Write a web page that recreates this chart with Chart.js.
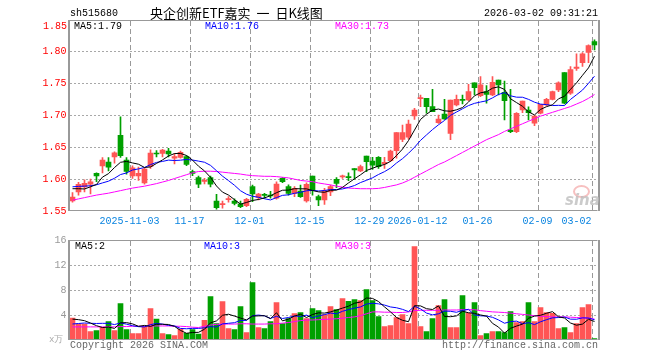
<!DOCTYPE html>
<html><head><meta charset="utf-8">
<script src="https://cdn.jsdelivr.net/npm/chart.js@4.4.1/dist/chart.umd.min.js"></script>
<style>
html,body{margin:0;padding:0;background:#fff;width:660px;height:360px;overflow:hidden;}
#wrap{position:relative;width:660px;height:360px;}
canvas{position:absolute;left:0;}
.t{position:absolute;white-space:nowrap;line-height:1;}
.m{font-family:'Liberation Mono','DejaVu Sans Mono',monospace;font-size:10px;}
.cn{font-family:'Noto Sans CJK SC',sans-serif;font-size:13px;word-spacing:3px;}
</style></head><body>
<div id="wrap">
<canvas id="pc" width="660" height="230" style="top:0"></canvas>
<canvas id="vc" width="660" height="130" style="top:230px"></canvas>
<div class="t m" style="left:70px;top:9px;color:#000">sh515680</div>
<div class="t cn" style="left:150px;top:6px;color:#000">央企创新ETF嘉实 一 日K线图</div>
<div class="t m" style="left:484px;top:9px;color:#000">2026-03-02 09:31:21</div>
<div class="t m" style="left:43px;top:22px;color:#f00">1.85</div>
<div class="t m" style="left:74px;top:22px;color:#000">MA5:1.79</div>
<div class="t m" style="left:205px;top:22px;color:#00f">MA10:1.76</div>
<div class="t m" style="left:335px;top:22px;color:#f0f">MA30:1.73</div>
<div class="t m" style="left:75px;top:242px;color:#000">MA5:2</div>
<div class="t m" style="left:204px;top:242px;color:#00f">MA10:3</div>
<div class="t m" style="left:335px;top:242px;color:#f0f">MA30:3</div>
<div class="t m" style="left:49px;top:336px;color:#aaa;font-size:9px">x万</div>
<div class="t m" style="left:70px;top:341px;color:#666">Copyright 2026 SINA.COM</div>
<div class="t m" style="left:442px;top:341px;color:#666">http://finance.sina.com.cn</div>
<div style="position:absolute;left:573px;top:185px;width:13px;height:9px;border:2px solid rgba(240,140,140,0.55);border-radius:50%"></div>
<div class="t" style="left:565px;top:193px;font-family:'DejaVu Sans',sans-serif;font-style:italic;font-weight:bold;font-size:15px;color:rgba(190,190,190,0.8)">sina</div>
</div>
<script>
const dates = ['2025-10-20','2025-10-21','2025-10-22','2025-10-23','2025-10-24','2025-10-27','2025-10-28','2025-10-29','2025-10-30','2025-10-31',
'2025-11-03','2025-11-04','2025-11-05','2025-11-06','2025-11-07','2025-11-10','2025-11-11','2025-11-12','2025-11-13','2025-11-14',
'2025-11-17','2025-11-18','2025-11-19','2025-11-20','2025-11-21','2025-11-24','2025-11-25','2025-11-26','2025-11-27','2025-11-28',
'2025-12-01','2025-12-02','2025-12-03','2025-12-04','2025-12-05','2025-12-08','2025-12-09','2025-12-10','2025-12-11','2025-12-12',
'2025-12-15','2025-12-16','2025-12-17','2025-12-18','2025-12-19','2025-12-22','2025-12-23','2025-12-24','2025-12-25','2025-12-26',
'2025-12-29','2025-12-30','2025-12-31','2026-01-05','2026-01-06','2026-01-07','2026-01-08','2026-01-09',
'2026-01-12','2026-01-13','2026-01-14','2026-01-15','2026-01-16','2026-01-19','2026-01-20','2026-01-21','2026-01-22','2026-01-23',
'2026-01-26','2026-01-27','2026-01-28','2026-01-29','2026-01-30','2026-02-02','2026-02-03','2026-02-04','2026-02-05','2026-02-06',
'2026-02-09','2026-02-10','2026-02-11','2026-02-12','2026-02-13','2026-02-24','2026-02-25','2026-02-26','2026-02-27','2026-03-02'];

const opens = [1.566,1.580,1.588,1.592,1.609,1.621,1.627,1.635,1.669,1.630,
1.605,1.605,1.594,1.620,1.6405,1.6406,1.6442,1.6328,1.6343,1.6353,
1.6118,1.6023,1.5963,1.6023,1.5657,1.560,1.5678,1.5657,1.561,1.5584,
1.5882,1.5715,1.5755,1.5745,1.570,1.6014,1.5882,1.5778,1.5814,1.5657,
1.605,1.5725,1.5673,1.580,1.5998,1.6035,1.604,1.6167,1.6128,1.6364,
1.6285,1.6343,1.6238,1.629,1.6447,1.6626,1.6658,1.6992,1.7265,1.727,
1.714,1.6887,1.7024,1.672,1.7165,1.7248,1.7243,1.7515,1.7311,1.7374,
1.7322,1.7558,1.7364,1.6772,1.6746,1.7086,1.7086,1.6878,1.7035,1.7165,
1.7254,1.740,1.7673,1.735,1.774,1.783,1.799,1.816];
const closes = [1.572,1.592,1.5935,1.596,1.605,1.630,1.619,1.6415,1.637,1.612,
1.618,1.609,1.616,1.641,1.6395,1.6458,1.6395,1.6353,1.6422,1.6233,
1.6092,1.592,1.598,1.592,1.5552,1.561,1.569,1.562,1.5567,1.5684,
1.5767,1.5767,1.5745,1.5735,1.5924,1.596,1.5778,1.5856,1.5725,1.592,
1.583,1.5673,1.5819,1.5882,1.5935,1.6045,1.6023,1.6144,1.6196,1.6275,
1.622,1.6196,1.6265,1.6442,1.673,1.673,1.6867,1.7086,1.7275,1.714,
1.706,1.6945,1.6945,1.7243,1.7254,1.7238,1.7374,1.7437,1.748,1.7333,
1.7521,1.748,1.7233,1.6746,1.7035,1.7228,1.7044,1.6992,1.7176,1.7254,
1.7374,1.7515,1.7192,1.772,1.776,1.797,1.810,1.811];
const highs = [1.579,1.595,1.599,1.600,1.610,1.634,1.634,1.643,1.698,1.634,
1.621,1.619,1.617,1.646,1.645,1.647,1.6485,1.640,1.6443,1.6369,
1.6144,1.605,1.6014,1.605,1.5762,1.5657,1.5725,1.569,1.5657,1.570,
1.5909,1.5778,1.5778,1.581,1.596,1.6023,1.591,1.5882,1.5909,1.5944,
1.605,1.575,1.5856,1.5909,1.6023,1.6066,1.610,1.6167,1.622,1.6364,
1.6343,1.6356,1.6343,1.6458,1.673,1.685,1.693,1.7113,1.732,1.727,
1.741,1.7008,1.7254,1.7243,1.7322,1.7322,1.749,1.7515,1.761,1.7468,
1.761,1.7558,1.7542,1.741,1.7044,1.7228,1.7138,1.700,1.7176,1.727,
1.7385,1.753,1.7673,1.777,1.797,1.799,1.811,1.819];
const lows = [1.564,1.575,1.580,1.577,1.596,1.610,1.613,1.625,1.634,1.608,
1.601,1.598,1.592,1.617,1.635,1.635,1.635,1.624,1.6328,1.6212,
1.6055,1.5866,1.5924,1.588,1.553,1.5543,1.5637,1.5594,1.5552,1.5567,
1.5646,1.5673,1.570,1.570,1.5684,1.5944,1.575,1.5725,1.5715,1.5637,
1.575,1.5584,1.5605,1.574,1.5866,1.601,1.5975,1.600,1.6118,1.6118,
1.6155,1.6167,1.6167,1.6275,1.6328,1.6589,1.663,1.694,1.714,1.7035,
1.706,1.6877,1.694,1.662,1.715,1.718,1.7233,1.7322,1.7296,1.7192,
1.7311,1.7322,1.693,1.673,1.673,1.7044,1.693,1.684,1.7024,1.715,
1.7243,1.7374,1.718,1.733,1.771,1.777,1.783,1.803];
// closes before the first visible day, estimated from where the MA lines start
const priorCloses = [1.585,1.590,1.590,1.590,1.600,1.592,1.5955,1.579,1.5865];
// MA30 of price
const ma30Price = [1.567,1.569,1.571,1.573,1.575,1.5765,1.578,1.580,1.582,1.584,
1.586,1.5875,1.589,1.591,1.593,1.5955,1.598,1.601,1.604,1.607,
1.610,1.612,1.6125,1.6125,1.612,1.611,1.610,1.609,1.608,1.6065,
1.6055,1.605,1.6045,1.6045,1.604,1.603,1.602,1.600,1.598,1.597,
1.596,1.594,1.5925,1.591,1.589,1.5875,1.586,1.5855,1.585,1.585,
1.585,1.5855,1.587,1.589,1.591,1.594,1.598,1.603,1.608,1.613,
1.618,1.623,1.627,1.632,1.637,1.642,1.647,1.652,1.657,1.662,
1.666,1.670,1.675,1.679,1.683,1.687,1.691,1.695,1.699,1.702,
1.705,1.708,1.711,1.714,1.718,1.722,1.727,1.733];
// volume, unit 万
const volumes = [3.52,2.56,2.56,1.33,1.49,2.03,2.93,1.49,5.81,1.65,
1.01,1.01,2.19,5.01,3.36,1.01,0.85,0.69,1.76,1.07,
1.65,0.96,3.15,6.93,2.61,6.13,1.81,1.65,5.33,1.17,
9.17,1.97,1.81,2.93,5.97,2.61,3.41,4.21,4.37,3.41,
5.01,4.69,4.05,5.33,4.85,6.61,6.19,6.45,6.29,8.05,
6.29,3.73,2.13,2.29,3.57,4.05,2.61,14.93,2.13,1.33,
3.41,5.49,6.45,1.97,1.97,7.09,4.32,5.97,0.69,1.01,
1.33,1.33,1.17,4.53,2.77,2.93,5.97,2.93,5.17,4.37,
4.27,1.81,1.97,1.17,2.61,5.17,5.65,0.21];
const priorVolumes = [1.78,1.78,1.78,1.78,1.78,3.0,3.4,3.2,3.6];
const ma30Volume = [2.1,2.1,2.1,2.1,2.1,2.1,2.1,2.1,2.15,2.15,
2.2,2.2,2.2,2.25,2.25,2.25,2.25,2.2,2.2,2.15,
2.05,2.0,2.2,2.4,2.5,2.55,2.55,2.55,2.6,2.6,
2.55,2.55,2.55,2.6,2.6,2.7,2.8,2.95,3.1,3.2,
3.2,3.25,3.3,3.35,3.4,3.5,3.6,3.7,3.9,4.2,
4.5,4.5,4.45,4.45,4.4,4.4,4.5,4.7,4.75,4.75,
4.75,4.75,4.8,4.8,4.8,4.85,4.85,4.85,4.7,4.6,
4.5,4.45,4.4,4.3,4.2,4.1,4.0,3.9,3.8,3.75,
3.7,3.7,3.7,3.65,3.6,3.55,3.5,3.35];
const xTickIdx = [10,20,30,40,50,58,68,78,87];
const xTickLabels = ['2025-11-03','11-17','12-01','12-15','12-29','2026-01-12','01-26','02-09','03-02'];
const priceTicks = ['1.85','1.80','1.75','1.70','1.65','1.60','1.55'];
const volumeTicks = ['16','12','8','4',''];

function movingAvg(vals, prior, n){
  const all = prior.concat(vals);
  return vals.map((_, i) => { const j = i + prior.length; let s = 0; for (let k = j - n + 1; k <= j; k++) s += all[k]; return s / n; });
}
const ma5Price = movingAvg(closes, priorCloses, 5);
const ma10Price = movingAvg(closes, priorCloses, 10);
const ma5Volume = movingAvg(volumes, priorVolumes, 5);
const ma10Volume = movingAvg(volumes, priorVolumes, 10);

const RED = '#ff5555', GREEN = '#00a000';
const barColors = closes.map((c, i) => c >= opens[i] ? RED : GREEN);
const MONO = "'Liberation Mono','DejaVu Sans Mono',monospace";

function drawDateLines(chart) {
  const {ctx, chartArea: a} = chart;
  const x = chart.scales.x;
  const half = (x.getPixelForValue(1) - x.getPixelForValue(0)) / 2;
  ctx.save();
  ctx.strokeStyle = '#999999';
  ctx.lineWidth = 1;
  ctx.setLineDash([5, 3]);
  xTickIdx.forEach(idx => {
    const px = Math.round(x.getPixelForValue(idx) - half) + 0.5;
    ctx.beginPath();
    ctx.moveTo(px, a.top + 1);
    ctx.lineTo(px, a.bottom - 1);
    ctx.stroke();
  });
  ctx.restore();
}

const framePlugin = {
  id: 'frame',
  beforeDatasetsDraw(chart) {
    drawDateLines(chart);
  },
  afterDraw(chart) {
    const {ctx, chartArea: a} = chart;
    ctx.save();
    ctx.setLineDash([]);
    ctx.strokeStyle = '#999';
    ctx.lineWidth = 1;
    ctx.beginPath();
    ctx.moveTo(a.left, Math.round(a.top) + 0.5); ctx.lineTo(a.right, Math.round(a.top) + 0.5);
    ctx.moveTo(a.left, Math.round(a.bottom) - 0.5); ctx.lineTo(a.right, Math.round(a.bottom) - 0.5);
    ctx.stroke();
    ctx.lineWidth = 2;
    ctx.beginPath();
    ctx.moveTo(Math.round(a.left) - 1, a.top); ctx.lineTo(Math.round(a.left) - 1, a.bottom);
    ctx.moveTo(Math.round(a.right) + 1, a.top); ctx.lineTo(Math.round(a.right) + 1, a.bottom);
    ctx.stroke();
    if (chart.options.plugins.frame && chart.options.plugins.frame.xlabels) {
      const x = chart.scales.x;
      const half = (x.getPixelForValue(1) - x.getPixelForValue(0)) / 2;
      ctx.font = '10px ' + MONO;
      ctx.fillStyle = '#0a84e0';
      ctx.textBaseline = 'middle';
      xTickIdx.forEach((idx, k) => {
        const px = x.getPixelForValue(idx) - half;
        ctx.textAlign = (k === xTickIdx.length - 1) ? 'right' : 'center';
        ctx.fillText(xTickLabels[k], px, a.bottom + 10.5);
      });
    }
    ctx.restore();
  }
};

function lineDs(data, color) {
  return {type: 'line', data: data, borderColor: color, borderWidth: 1, pointRadius: 0, tension: 0, order: 0, fill: false};
}
function xScale() {
  return {
    type: 'category', offset: true,
    grid: {display: false, offset: true},
    border: {display: false},
    ticks: {display: false, autoSkip: false},
    afterFit: s => { s.height = 0; }
  };
}

new Chart(document.getElementById('pc'), {
  type: 'bar',
  data: {
    labels: dates,
    datasets: [
      lineDs(ma5Price, '#000000'),
      lineDs(ma10Price, '#0000ff'),
      lineDs(ma30Price, '#ff00ff'),
      {label: 'body', data: opens.map((o, i) => [o, closes[i]]), backgroundColor: barColors,
       barThickness: 5, grouped: false, minBarLength: 1, order: 1},
      {label: 'wick', data: lows.map((l, i) => [l, highs[i]]), backgroundColor: barColors,
       barThickness: 1, grouped: false, order: 2}
    ]
  },
  options: {
    responsive: false, animation: false, devicePixelRatio: 1,
    layout: {padding: {left: 0, right: 62.5, top: 20, bottom: 19}},
    plugins: {legend: {display: false}, tooltip: {enabled: false}, frame: {xlabels: true}},
    scales: {
      x: xScale(),
      y: {
        min: 1.55, max: 1.85,
        afterFit: s => { s.width = 69.5; },
        ticks: {stepSize: 0.05, color: '#ff0000', padding: 3, font: {family: MONO, size: 10},
          callback: v => { const lab = priceTicks.find(t => Math.abs(parseFloat(t) - v) < 1e-6); return (lab && lab !== priceTicks[0]) ? lab : ''; }},
        grid: {drawTicks: false, lineWidth: 1,
          color: c => (c.tick && (c.tick.value > 1.849 || c.tick.value < 1.551)) ? 'rgba(0,0,0,0)' : '#a8a8a8'},
        border: {display: false, dash: [2, 2]}
      }
    }
  },
  plugins: [framePlugin]
});

new Chart(document.getElementById('vc'), {
  type: 'bar',
  data: {
    labels: dates,
    datasets: [
      lineDs(ma5Volume, '#000000'),
      lineDs(ma10Volume, '#0000ff'),
      lineDs(ma30Volume, '#ff00ff'),
      {label: 'vol', data: volumes, backgroundColor: barColors, barThickness: 5, grouped: false, order: 1}
    ]
  },
  options: {
    responsive: false, animation: false, devicePixelRatio: 1,
    layout: {padding: {left: 0, right: 62.5, top: 10, bottom: 20}},
    plugins: {legend: {display: false}, tooltip: {enabled: false}, frame: {xlabels: false}},
    scales: {
      x: xScale(),
      y: {
        min: 0, max: 16,
        afterFit: s => { s.width = 69.5; },
        ticks: {stepSize: 4, color: '#999', padding: 3, font: {family: MONO, size: 10},
          callback: v => volumeTicks[Math.round((16 - v) / 4)] || ''},
        grid: {drawTicks: false, lineWidth: 1,
          color: c => (c.tick && (c.tick.value > 15.9 || c.tick.value < 0.1)) ? 'rgba(0,0,0,0)' : '#a8a8a8'},
        border: {display: false, dash: [2, 2]}
      }
    }
  },
  plugins: [framePlugin]
});
</script>
</body></html>
